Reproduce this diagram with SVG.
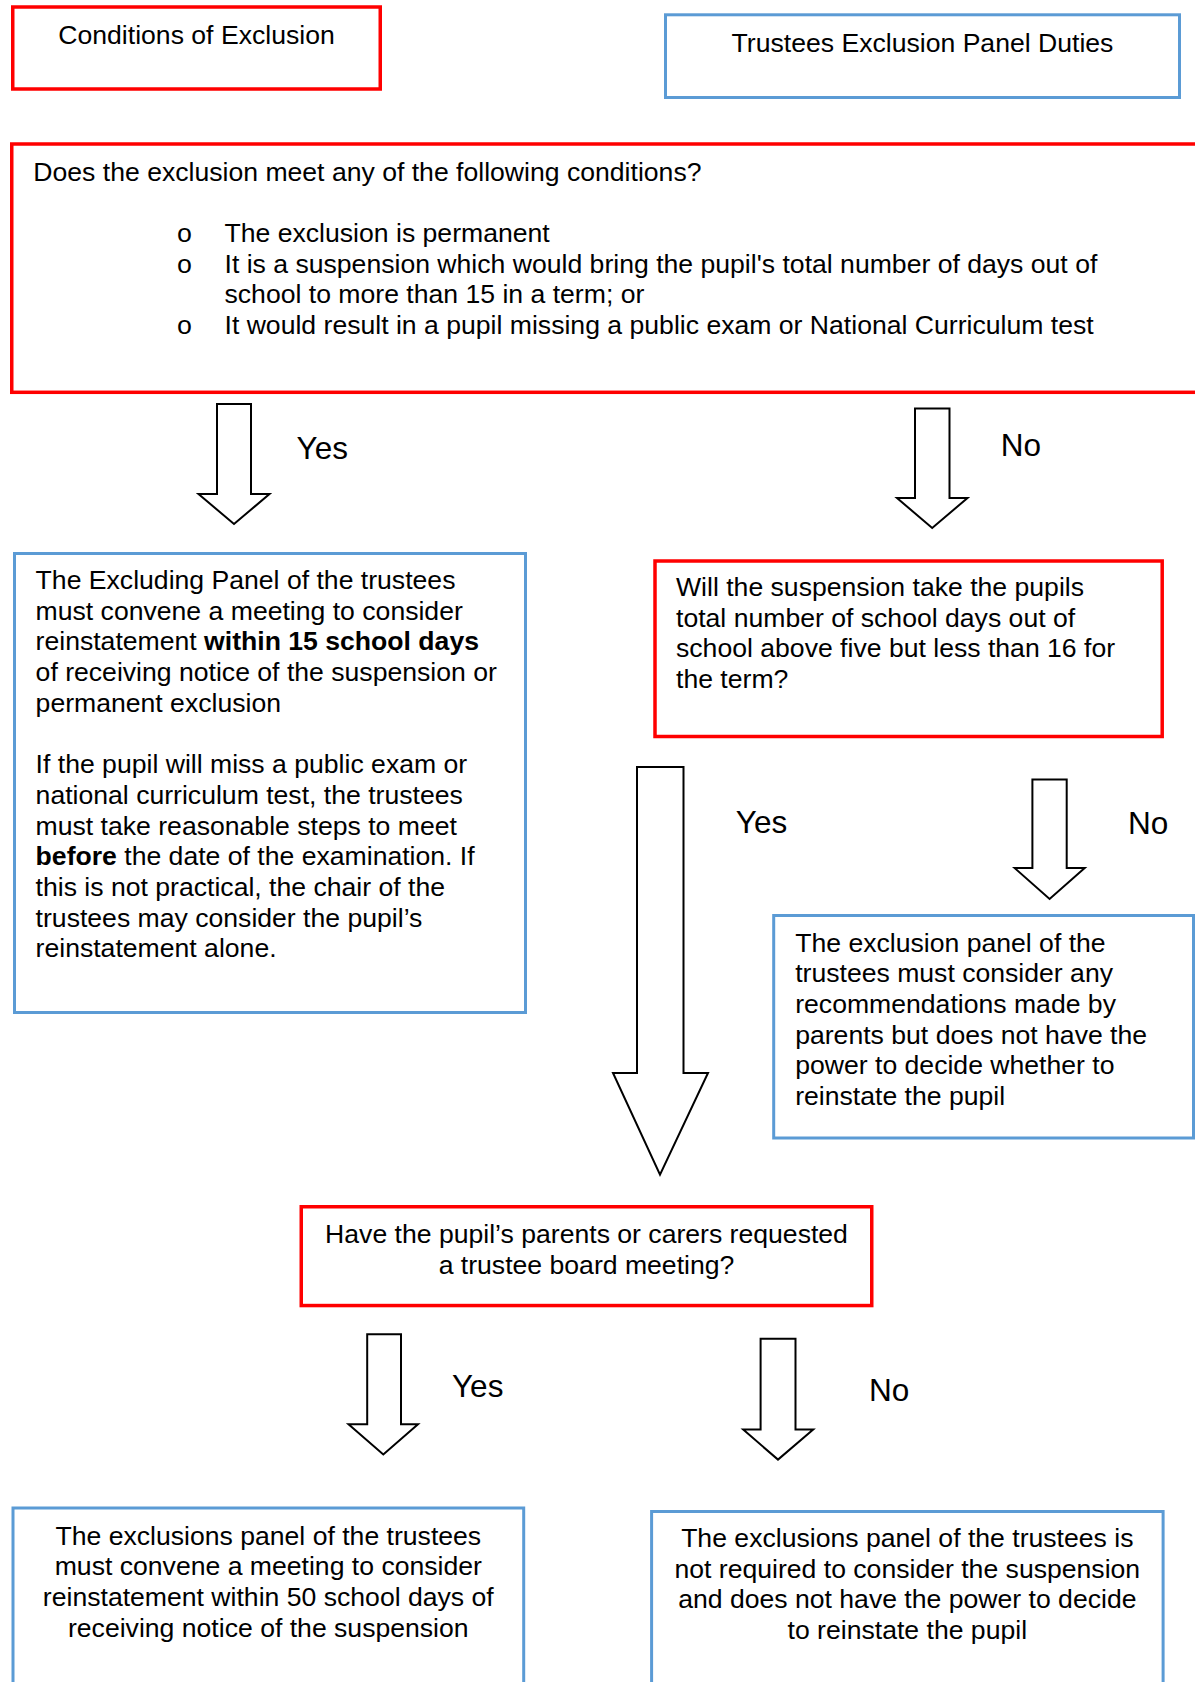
<svg xmlns="http://www.w3.org/2000/svg" width="1195" height="1682" viewBox="0 0 1195 1682">
<style>
text{font-family:"Liberation Sans",Arial,sans-serif;font-size:26.6px;fill:#000}
.red{fill:#fff;stroke:#ff0000;stroke-width:3.5}
.blue{fill:#fff;stroke:#5b9bd5;stroke-width:3}
.arrow{fill:#fff;stroke:#000;stroke-width:2;stroke-linejoin:miter}
.lbl{font-size:31.5px}
.c{text-anchor:middle}
.bul{font-family:"Liberation Mono","Courier New",monospace;text-anchor:middle}
.b{font-weight:bold}
</style>
<rect width="1195" height="1682" fill="#fff"/>

<g id="conditions-header">
<rect class="red" x="12.75" y="7" width="367.5" height="82"/>
<text class="c" x="196.5" y="44">Conditions of Exclusion</text>
</g>

<g id="trustees-header">
<rect class="blue" x="665.5" y="14.8" width="514" height="82.7"/>
<text class="c" x="922.5" y="52">Trustees Exclusion Panel Duties</text>
</g>

<g id="q-conditions">
<rect class="red" x="11.75" y="144" width="1200" height="248.3"/>
<text x="33.3" y="180.5">Does the exclusion meet any of the following conditions?</text>
<text class="bul" x="184.5" y="242">o</text>
<text x="224.5" y="242">The exclusion is permanent</text>
<text class="bul" x="184.5" y="272.7">o</text>
<text x="224.5" y="272.7">It is a suspension which would bring the pupil's total number of days out of</text>
<text x="224.5" y="303.4">school to more than 15 in a term; or</text>
<text class="bul" x="184.5" y="334">o</text>
<text x="224.5" y="334">It would result in a pupil missing a public exam or National Curriculum test</text>
</g>

<g id="excluding-panel">
<rect class="blue" x="14.5" y="553.5" width="511" height="459"/>
<text x="35.6" y="589">The Excluding Panel of the trustees</text>
<text x="35.6" y="619.7">must convene a meeting to consider</text>
<text x="35.6" y="650.4">reinstatement <tspan class="b">within 15 school days</tspan></text>
<text x="35.6" y="681.1">of receiving notice of the suspension or</text>
<text x="35.6" y="711.8">permanent exclusion</text>
<text x="35.6" y="773.2">If the pupil will miss a public exam or</text>
<text x="35.6" y="803.9">national curriculum test, the trustees</text>
<text x="35.6" y="834.6">must take reasonable steps to meet</text>
<text x="35.6" y="865.3"><tspan class="b">before</tspan> the date of the examination. If</text>
<text x="35.6" y="896">this is not practical, the chair of the</text>
<text x="35.6" y="926.7">trustees may consider the pupil’s</text>
<text x="35.6" y="957.4">reinstatement alone.</text>
</g>

<g id="q-days">
<rect class="red" x="655" y="561" width="507.2" height="175.5"/>
<text x="676" y="595.8">Will the suspension take the pupils</text>
<text x="676" y="626.5">total number of school days out of</text>
<text x="676" y="657.2">school above five but less than 16 for</text>
<text x="676" y="687.9">the term?</text>
</g>

<g id="consider-recommendations">
<rect class="blue" x="773.7" y="915.5" width="419.8" height="222.5"/>
<text x="795.2" y="951.5">The exclusion panel of the</text>
<text x="795.2" y="982.2">trustees must consider any</text>
<text x="795.2" y="1012.9">recommendations made by</text>
<text x="795.2" y="1043.6">parents but does not have the</text>
<text x="795.2" y="1074.3">power to decide whether to</text>
<text x="795.2" y="1105">reinstate the pupil</text>
</g>

<g id="q-parents">
<rect class="red" x="301.25" y="1206.75" width="570.5" height="98.8"/>
<text class="c" x="586.5" y="1243">Have the pupil’s parents or carers requested</text>
<text class="c" x="586.5" y="1273.5">a trustee board meeting?</text>
</g>

<g id="meeting-50-days">
<rect class="blue" x="13" y="1508" width="510.7" height="180"/>
<text class="c" x="268.3" y="1544.5">The exclusions panel of the trustees</text>
<text class="c" x="268.3" y="1575.2">must convene a meeting to consider</text>
<text class="c" x="268.3" y="1605.9">reinstatement within 50 school days of</text>
<text class="c" x="268.3" y="1636.6">receiving notice of the suspension</text>
</g>

<g id="not-required">
<rect class="blue" x="651.6" y="1511.5" width="511.5" height="180"/>
<text class="c" x="907.3" y="1547">The exclusions panel of the trustees is</text>
<text class="c" x="907.3" y="1577.7">not required to consider the suspension</text>
<text class="c" x="907.3" y="1608.4">and does not have the power to decide</text>
<text class="c" x="907.3" y="1639">to reinstate the pupil</text>
</g>

<g id="connectors">
<polygon class="arrow" points="217,404 251,404 251,494 269.5,494 234,524 198.5,494 217,494"/>
<text class="lbl" x="296.6" y="458.6">Yes</text>
<polygon class="arrow" points="915,408.5 949.5,408.5 949.5,498 967.5,498 932.2,528 897,498 915,498"/>
<text class="lbl" x="1000.7" y="456">No</text>
<polygon class="arrow" points="637,767 683.5,767 683.5,1073 708,1073 660,1174.6 613,1073 637,1073"/>
<text class="lbl" x="735.8" y="832.5">Yes</text>
<polygon class="arrow" points="1032.4,779.5 1066.7,779.5 1066.7,868 1084.7,868 1049.6,899 1014.6,868 1032.4,868"/>
<text class="lbl" x="1128" y="834">No</text>
<polygon class="arrow" points="367.2,1334.2 401,1334.2 401,1424.2 418,1424.2 383.3,1454.5 348.5,1424.2 367.2,1424.2"/>
<text class="lbl" x="452" y="1397">Yes</text>
<polygon class="arrow" points="760.6,1338.8 795.5,1338.8 795.5,1429.6 813.2,1429.6 778,1459.6 743.2,1429.6 760.6,1429.6"/>
<text class="lbl" x="869" y="1401">No</text>
</g>
</svg>
